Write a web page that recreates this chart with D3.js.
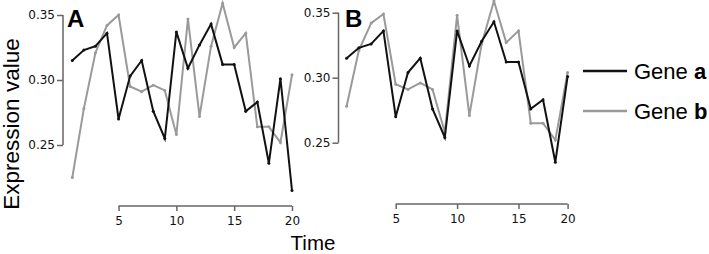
<!DOCTYPE html>
<html>
<head>
<meta charset="utf-8">
<script src="https://cdn.jsdelivr.net/npm/d3@7"></script>
<style>
  body { margin: 0; background: #fff; }
  .axis text { font-family: "DejaVu Sans", Verdana, sans-serif; font-size: 12px; fill: #111; }
  .axis line, .axis path { stroke: #666; stroke-width: 1.5; }
  .title { font-family: "Liberation Sans", Arial, sans-serif; fill: #000; }
</style>
</head>
<body>
<svg width="709" height="254"></svg>
<script>
// panel A: original series, time 1..20
var timeA = d3.range(1, 21);
var geneA_a = [0.315, 0.323, 0.326, 0.336, 0.270, 0.303, 0.315, 0.276, 0.255, 0.337,
               0.309, 0.327, 0.343, 0.312, 0.312, 0.276, 0.283, 0.236, 0.301, 0.215];
var geneA_b = [0.225, 0.278, 0.321, 0.342, 0.350, 0.295, 0.291, 0.296, 0.292, 0.258,
               0.347, 0.272, 0.326, 0.359, 0.325, 0.336, 0.264, 0.264, 0.252, 0.304];
// panel B: aligned series, 19 points
var timeB = d3.range(1, 20);
var geneB_a = [0.315, 0.323, 0.326, 0.336, 0.270, 0.304, 0.315, 0.276, 0.254, 0.336,
               0.309, 0.328, 0.343, 0.312, 0.312, 0.276, 0.283, 0.235, 0.301];
var geneB_b = [0.278, 0.321, 0.342, 0.349, 0.295, 0.291, 0.296, 0.291, 0.258, 0.348,
               0.271, 0.326, 0.359, 0.327, 0.336, 0.265, 0.265, 0.252, 0.304];
var yTicks = [0.25, 0.30, 0.35];
var xTicks = [5, 10, 15, 20];

var svg = d3.select("svg");
var colA = "#111", colB = "#9a9a9a";

function panel(opt) {
  var x = d3.scaleLinear().domain(opt.xdom).range(opt.xrange);
  var y = d3.scaleLinear().domain([0.2, 0.36]).range([opt.y0 + 0.1 * 1300, opt.y0 - 0.06 * 1300]);
  var g = svg.append("g");

  // y axis, line only across the tick range
  var ya = g.append("g").attr("class", "axis")
    .attr("transform", "translate(" + opt.yaxisX + ",0)")
    .call(d3.axisLeft(y).tickValues(yTicks).tickSize(6).tickPadding(2).tickFormat(d3.format(".2f")));
  ya.select(".domain").remove();
  ya.append("line").attr("x1", 0).attr("x2", 0).attr("y1", y(0.25)).attr("y2", y(0.35));

  // x axis
  var xa = g.append("g").attr("class", "axis")
    .attr("transform", "translate(0," + opt.xaxisY + ")")
    .call(d3.axisBottom(x).tickValues(opt.tickPos).tickSize(5).tickPadding(5)
      .tickFormat((d, i) => xTicks[i]));
  xa.select(".domain").remove();
  xa.append("line").attr("y1", 0).attr("y2", 0)
    .attr("x1", x(opt.tickPos[0])).attr("x2", x(opt.tickPos[opt.tickPos.length - 1]));

  var line = d3.line().x((d, i) => x(opt.time[i])).y(d => y(d));
  [[opt.b, colB], [opt.a, colA]].forEach(s => {
    g.append("path").attr("d", line(s[0])).attr("fill", "none")
      .attr("stroke", s[1]).attr("stroke-width", 2).attr("stroke-linejoin", "miter");
    g.selectAll(null).data(s[0]).enter().append("circle")
      .attr("cx", (d, i) => x(opt.time[i])).attr("cy", d => y(d))
      .attr("r", 1.5).attr("fill", s[1]);
  });

  g.append("text").attr("class", "title")
    .attr("x", opt.labelX).attr("y", 27)
    .attr("font-size", 24).attr("font-weight", "bold")
    .text(opt.label);
}

panel({ label: "A", labelX: 67, time: timeA, a: geneA_a, b: geneA_b,
  xdom: [1, 20], xrange: [72.3, 292], tickPos: [5, 10, 15, 20],
  y0: 80, yaxisX: 63, xaxisY: 206 });
// the B axis puts its "20" tick on the last (19th) point
panel({ label: "B", labelX: 345, time: timeB, a: geneB_a, b: geneB_b,
  xdom: [1, 19], xrange: [346.6, 567.6], tickPos: [5, 10, 15, 19],
  y0: 77.7, yaxisX: 338.5, xaxisY: 204 });

// axis titles
svg.append("text").attr("class", "title")
  .attr("transform", "translate(18.5,124) rotate(-90)")
  .attr("text-anchor", "middle").attr("font-size", 22.5)
  .text("Expression value");
svg.append("text").attr("class", "title")
  .attr("x", 313).attr("y", 250).attr("text-anchor", "middle")
  .attr("font-size", 20.5).text("Time");

// legend
var legend = [["a", colA, 71], ["b", colB, 111]];
legend.forEach(l => {
  svg.append("line").attr("x1", 583).attr("x2", 627).attr("y1", l[2]).attr("y2", l[2])
    .attr("stroke", l[1]).attr("stroke-width", 2.5);
  var t = svg.append("text").attr("class", "title")
    .attr("x", 634).attr("y", l[2] + 8).attr("font-size", 22);
  t.append("tspan").text("Gene ");
  t.append("tspan").attr("font-weight", "bold").text(l[0]);
});
</script>
</body>
</html>
